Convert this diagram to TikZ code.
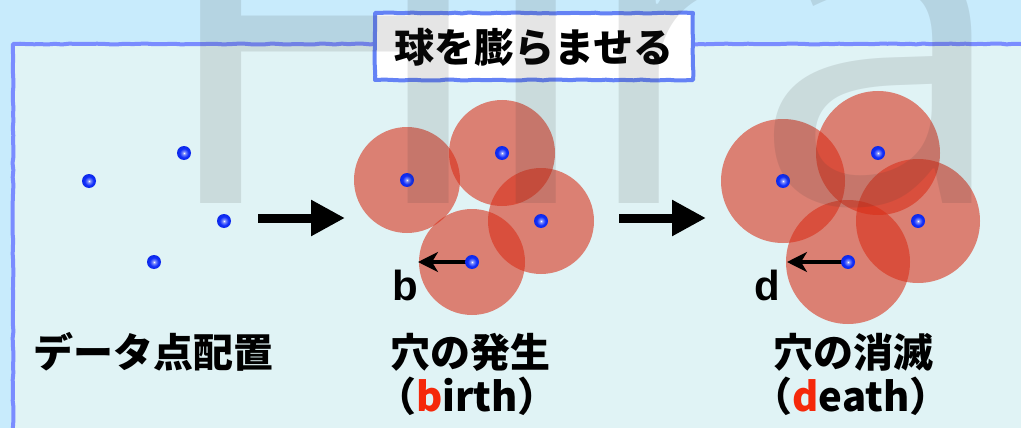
\documentclass[tikz,border=0pt]{standalone}
\usepackage{fontspec}
\usetikzlibrary{arrows.meta,decorations.pathmorphing}
\newfontfamily\jp{Noto Sans CJK JP}
\newfontfamily\wmfont{Noto Sans}
\newfontfamily\latfont{Liberation Sans}
\definecolor{skybg}{RGB}{200,235,252}
\definecolor{panelbg}{RGB}{224,243,245}
\definecolor{panelline}{RGB}{122,140,255}
\definecolor{titleline}{RGB}{100,130,245}
\definecolor{holered}{RGB}{217,45,22}
\definecolor{wmgray}{RGB}{58,58,58}
\definecolor{labelred}{RGB}{245,40,10}
\definecolor{dotmid}{RGB}{15,45,250}
\definecolor{dotedge}{RGB}{0,20,165}
\pgfdeclareradialshading{dotball}{\pgfpoint{0bp}{0bp}}{%
  color(0bp)=(white); color(5bp)=(dotmid!55!white); color(16bp)=(dotmid); color(36bp)=(dotmid!85!black); color(50bp)=(dotedge)}
\tikzset{
  sketch/.style={decorate, decoration={random steps, segment length=7pt, amplitude=0.5pt},
    line join=round, line cap=round},
  hole/.style={fill=holered, fill opacity=0.58},
  bigarrow/.style={line width=9pt, -{Triangle[length=34pt,width=34pt]}},
  radarrow/.style={line width=3.2pt, -{Stealth[length=20pt,width=20pt,inset=6pt]}},
  jplabel/.style={font=\jp\bfseries\fontsize{40}{44}\selectfont, inner sep=0pt, align=center},
  letterlabel/.style={font=\latfont\bfseries\fontsize{42}{42}\selectfont, inner sep=0pt},
  wm/.style={font=\wmfont\fontsize{455}{455}\selectfont, inner sep=0pt, text=wmgray, text opacity=0.13}
}
\newcommand{\dotball}[1]{\shade[shading=dotball] (#1) circle (7pt);}
\begin{document}
\begin{tikzpicture}[x=1pt,y=-1pt]
\useasboundingbox (0,0) rectangle (1021,428);
\clip (0,0) rectangle (1021,428);
\fill[skybg] (0,0) rectangle (1021,428);
% panel
\fill[panelbg] (13,44) rectangle (1040,450);
\draw[panelline, line width=4pt, sketch] (13,450) -- (13,44) -- (1040,44);
% title
\node[draw=titleline, fill=white, line width=4pt, sketch, minimum width=318pt, minimum height=67pt, inner sep=0pt]
  (title) at (534,46.5) {};
\node[jplabel] (titletext) at (534,47) {球を膨らませる};
% coordinates of data points
\coordinate (p1) at (89,181);
\coordinate (p2) at (184,153);
\coordinate (p3) at (224,221);
\coordinate (p4) at (154,262);
\coordinate (q1) at (407,180);
\coordinate (q2) at (502,153);
\coordinate (q3) at (541,221);
\coordinate (q4) at (472,262);
\coordinate (s1) at (783,181);
\coordinate (s2) at (878,153);
\coordinate (s3) at (918,221);
\coordinate (s4) at (848,262);
% balls
\foreach \c in {q1,q2,q3,q4} { \fill[hole] (\c) circle (53pt); }
\foreach \c in {s1,s2,s3,s4} { \fill[hole] (\c) circle (62pt); }
% big arrows
\coordinate (a1s) at (258,218);
\coordinate (a1e) at (345,218);
\coordinate (a2s) at (619,218);
\coordinate (a2e) at (706,218);
\draw[bigarrow] (a1s) -- (a1e);
\draw[bigarrow] (a2s) -- (a2e);
% radius arrows
\coordinate (qb) at (418,262);
\coordinate (sd) at (787,262);
\draw[radarrow] (q4) -- (qb);
\draw[radarrow] (s4) -- (sd);
% dots
\foreach \c in {p1,p2,p3,p4,q1,q2,q3,q4,s1,s2,s3,s4} { \dotball{\c} }
% letters
\node[letterlabel] (lb) at (405,285) {b};
\node[letterlabel] (ld) at (767,285) {d};
% captions
\node[jplabel] (cap1) at (154,352) {データ点配置};
\node[jplabel] (cap2) at (470,352) {穴の発生};
\node[jplabel] (cap2b) at (467,396) {（\textcolor{labelred}{b}irth）};
\node[jplabel] (cap3) at (853,352) {穴の消滅};
\node[jplabel] (cap3b) at (851,396) {（\textcolor{labelred}{d}eath）};
% watermark
\node[wm, anchor=base] (wmH) at (325,203) {H};
\node[wm, anchor=base] (wmi) at (536,203) {i};
\node[wm, anchor=base west] (wmr) at (580,203) {r};
\node[wm, anchor=base west] (wma) at (753,203) {a};
\end{tikzpicture}
\end{document}
